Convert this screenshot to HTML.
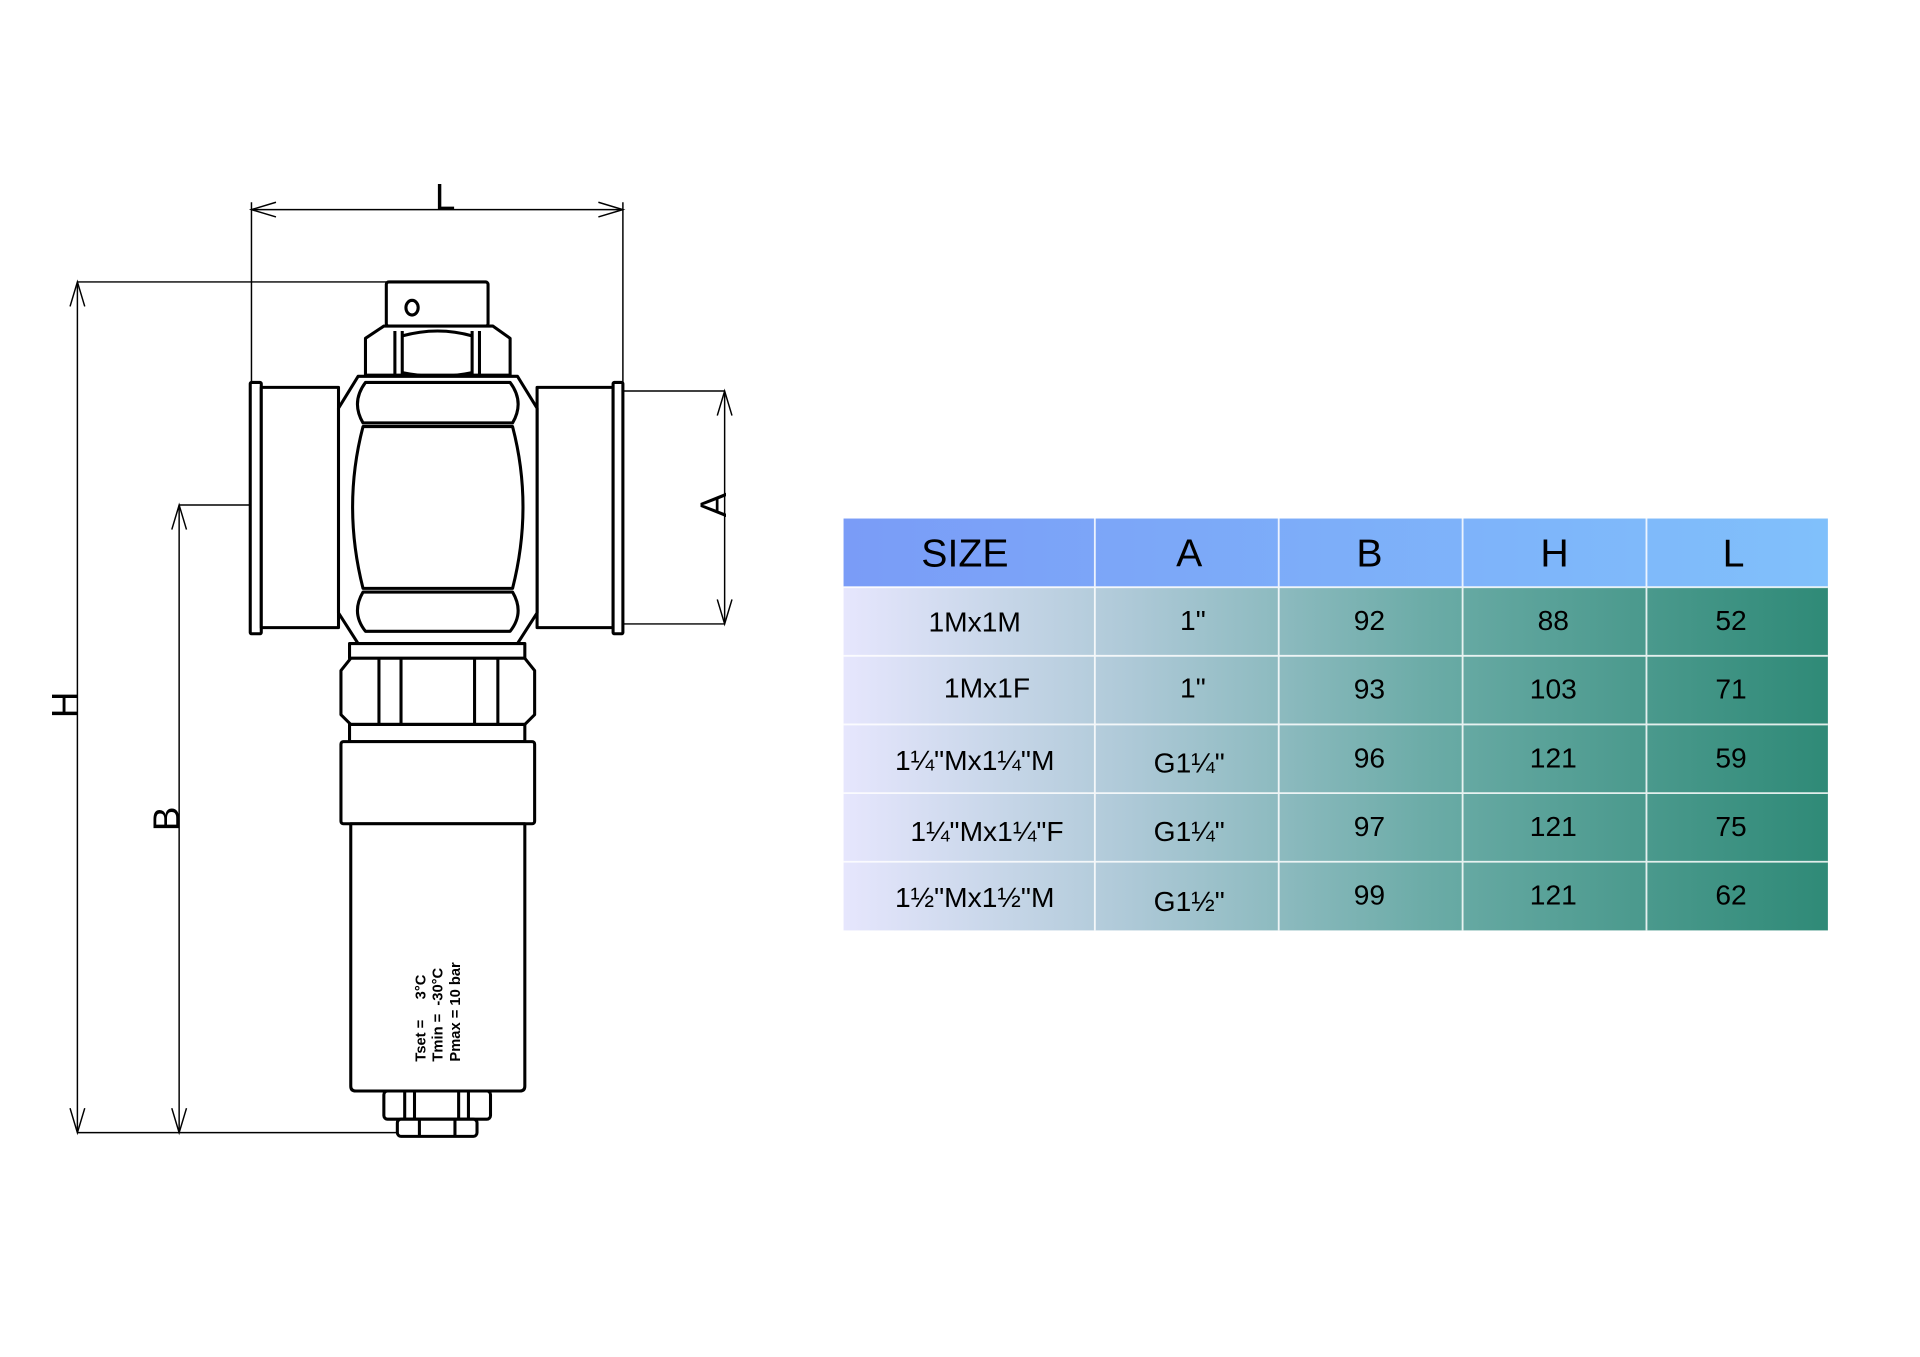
<!DOCTYPE html>
<html><head><meta charset="utf-8"><style>
html,body{margin:0;padding:0;background:#fff;}
svg{display:block}
</style></head><body>
<svg width="1920" height="1357" viewBox="0 0 1566 1107" xmlns="http://www.w3.org/2000/svg" font-family="Liberation Sans, sans-serif">
<defs>
<linearGradient id="hd" x1="0" x2="1" y1="0" y2="0"><stop offset="0" stop-color="#7a9cf7"/><stop offset="1" stop-color="#80c0fb"/></linearGradient>
<linearGradient id="bd" x1="0" x2="1" y1="0" y2="0"><stop offset="0" stop-color="#e6e6fd"/><stop offset="0.3" stop-color="#acc8d6"/><stop offset="0.6" stop-color="#6aaba6"/><stop offset="1" stop-color="#2f8a77"/></linearGradient>
</defs>
<g stroke="#000" stroke-width="1.2" fill="none">
<!-- L dim -->
<line x1="205" y1="171" x2="508" y2="171"/>
<line x1="205" y1="165" x2="205" y2="315"/><line x1="508" y1="165" x2="508" y2="315"/>
<polyline points="225,165 205,171 225,177"/><polyline points="488,165 508,171 488,177"/>
<!-- H dim -->
<line x1="63" y1="230" x2="63" y2="924"/>
<line x1="63" y1="230" x2="316" y2="230"/><line x1="63" y1="924" x2="325" y2="924"/>
<polyline points="57,250 63,230 69,250"/><polyline points="57,904 63,924 69,904"/>
<!-- B dim -->
<line x1="146" y1="412" x2="146" y2="924"/>
<line x1="146" y1="412" x2="205" y2="412"/>
<polyline points="140,432 146,412 152,432"/><polyline points="140,904 146,924 152,904"/>
<!-- A dim -->
<line x1="591" y1="319" x2="591" y2="509"/>
<line x1="440" y1="319" x2="591" y2="319"/><line x1="440" y1="509" x2="591" y2="509"/>
<polyline points="585,339 591,319 597,339"/><polyline points="585,489 591,509 597,489"/>
</g>
<g font-size="30" fill="#000">
<text x="363" y="171" text-anchor="middle">L</text>
<text transform="translate(63,575) rotate(-90)" text-anchor="middle">H</text>
<text transform="translate(146,668) rotate(-90)" text-anchor="middle">B</text>
<text transform="translate(592,412) rotate(-90)" text-anchor="middle">A</text>
</g>
<!-- valve -->
<g stroke="#000" stroke-width="2.5" fill="#fff" stroke-linejoin="round">
<rect x="315" y="230" width="83" height="36" rx="2"/>
<ellipse cx="336" cy="251" rx="5" ry="6"/>
<path d="M298,276 L313,266 L402,266 L416,276 L416,306 L298,306 Z"/>
<path d="M322,270 L322,306 M328,270 L328,306 M385,270 L385,306 M391,270 L391,306"/>
<path d="M328,274 Q357,266 385,274 M328,304 Q357,310 385,304" fill="none"/>
<rect x="204" y="312" width="9" height="205" rx="1"/>
<rect x="213" y="316" width="63" height="196"/>
<rect x="438" y="316" width="62" height="196"/>
<rect x="500" y="312" width="8" height="205" rx="1"/>
<path d="M292,307 L422,307 L438,333 L438,500 L422,525 L292,525 L276,500 L276,333 Z"/>
<path d="M298,312 L416,312 Q428,328 418,345 L296,345 Q286,328 298,312 Z"/>
<path d="M296,348 L418,348 Q435,413 418,480 L296,480 Q279,413 296,348 Z"/>
<path d="M296,483 L418,483 Q428,500 416,515 L298,515 Q286,500 296,483 Z"/>
<rect x="285" y="525" width="143" height="12"/>
<path d="M278,547 L286,537 L428,537 L436,547 L436,583 L428,591 L286,591 L278,583 Z"/>
<path d="M309,537 L309,591 M327,537 L327,591 M387,537 L387,591 M406,537 L406,591"/>
<rect x="285" y="591" width="143" height="14"/>
<rect x="278" y="605" width="158" height="67" rx="2"/>
<path d="M286,672 L428,672 L428,886 Q428,890 424,890 L290,890 Q286,890 286,886 Z"/>
<rect x="313" y="890" width="87" height="23" rx="3"/>
<path d="M330,890 L330,913 M338,890 L338,913 M374,890 L374,913 M382,890 L382,913"/>
<rect x="324" y="913" width="65" height="14" rx="3"/>
<path d="M342,913 L342,927 M371,913 L371,927"/>
</g>
<g font-size="12" font-weight="bold" fill="#000">
<text transform="translate(347,866) rotate(-90)">Tset =&#160;&#160;&#160;&#160;&#160;3°C</text>
<text transform="translate(361,866) rotate(-90)">Tmin =&#160;&#160;-30°C</text>
<text transform="translate(375,866) rotate(-90)">Pmax = 10 bar</text>
</g>
<!-- table -->
<rect x="688" y="423" width="803" height="56" fill="url(#hd)"/>
<rect x="688" y="479" width="803" height="280" fill="url(#bd)"/>
<g stroke="#fff" stroke-width="1.5" opacity="0.85">
<line x1="893" y1="423" x2="893" y2="759"/><line x1="1043" y1="423" x2="1043" y2="759"/>
<line x1="1193" y1="423" x2="1193" y2="759"/><line x1="1343" y1="423" x2="1343" y2="759"/>
<line x1="688" y1="479" x2="1491" y2="479"/><line x1="688" y1="535" x2="1491" y2="535"/>
<line x1="688" y1="591" x2="1491" y2="591"/><line x1="688" y1="647" x2="1491" y2="647"/>
<line x1="688" y1="703" x2="1491" y2="703"/>
</g>
<g font-size="32" fill="#000" text-anchor="middle">
<text x="787" y="462">SIZE</text><text x="970" y="462">A</text><text x="1117" y="462">B</text><text x="1268" y="462">H</text><text x="1414" y="462">L</text>
</g>
<g font-size="23" fill="#000" text-anchor="middle">
<text x="795" y="515">1Mx1M</text><text x="973" y="514">1"</text><text x="1117" y="514">92</text><text x="1267" y="514">88</text><text x="1412" y="514">52</text>
<text x="805" y="569">1Mx1F</text><text x="973" y="569">1"</text><text x="1117" y="570">93</text><text x="1267" y="570">103</text><text x="1412" y="570">71</text>
<text x="795" y="628">1¼"Mx1¼"M</text><text x="970" y="630">G1¼"</text><text x="1117" y="626">96</text><text x="1267" y="626">121</text><text x="1412" y="626">59</text>
<text x="805" y="686">1¼"Mx1¼"F</text><text x="970" y="686">G1¼"</text><text x="1117" y="682">97</text><text x="1267" y="682">121</text><text x="1412" y="682">75</text>
<text x="795" y="740">1½"Mx1½"M</text><text x="970" y="743">G1½"</text><text x="1117" y="738">99</text><text x="1267" y="738">121</text><text x="1412" y="738">62</text>
</g>
</svg>
</body></html>
